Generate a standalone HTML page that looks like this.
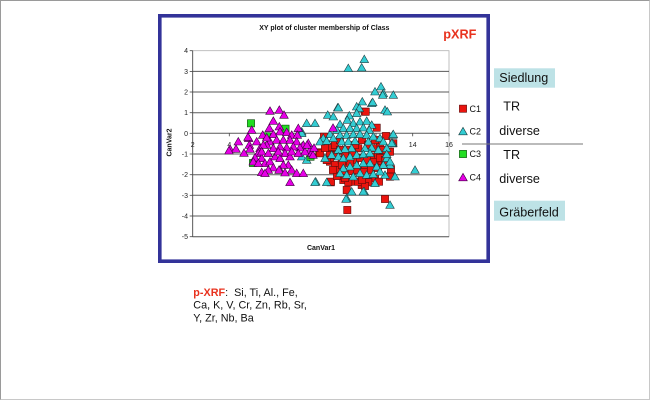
<!DOCTYPE html>
<html><head><meta charset="utf-8"><style>
html,body{margin:0;padding:0;background:#fff;}
svg{display:block;}
text{font-family:"Liberation Sans",Arial,sans-serif;}
</style></head><body>
<svg width="650" height="400" viewBox="0 0 650 400" xmlns="http://www.w3.org/2000/svg">
<defs>
<path id="tc" d="M0,-4.2 L4.3,3.3 L-4.3,3.3Z" fill="#33cdd3" stroke="#1d3f42" stroke-width="0.6"/>
<path id="tm" d="M0,-4.2 L4.3,3.3 L-4.3,3.3Z" fill="#e600e6" stroke="#3d003d" stroke-width="0.6"/>
<rect id="sr" x="-3.6" y="-3.6" width="7.2" height="7.2" fill="#ea140e" stroke="#5a0a0a" stroke-width="0.6"/>
<rect id="sg" x="-3.6" y="-3.6" width="7.2" height="7.2" fill="#22dd22" stroke="#0a4a0a" stroke-width="0.6"/>
</defs>
<rect x="0.5" y="0.5" width="649" height="399" fill="#fff" stroke="#c8c8c8"/>
<path d="M0.5,399.5 V0.5 H649.5" fill="none" stroke="#9a9a9a"/>

<!-- frame -->
<rect x="159.8" y="15.8" width="328.4" height="245.4" fill="#fff" stroke="#333399" stroke-width="3.6"/>

<!-- plot area -->
<rect x="192.7" y="50.7" width="256.3" height="186" fill="none" stroke="#b0b0b0" stroke-width="0.8"/>
<g stroke="#5a5a5a" stroke-width="1">
<line x1="192.7" y1="71.4" x2="449" y2="71.4"/>
<line x1="192.7" y1="92" x2="449" y2="92"/>
<line x1="192.7" y1="112.7" x2="449" y2="112.7"/>
<line x1="192.7" y1="133.3" x2="449" y2="133.3"/>
<line x1="192.7" y1="154" x2="449" y2="154"/>
<line x1="192.7" y1="174.7" x2="449" y2="174.7"/>
<line x1="192.7" y1="195.3" x2="449" y2="195.3"/>
<line x1="192.7" y1="216" x2="449" y2="216"/>
<line x1="192.7" y1="236.7" x2="449" y2="236.7"/>
</g>
<g stroke="#444" stroke-width="0.8">
<line x1="192.7" y1="50.7" x2="192.7" y2="236.7"/>
<line x1="189.7" y1="50.7" x2="192.7" y2="50.7"/>
<line x1="189.7" y1="71.4" x2="192.7" y2="71.4"/>
<line x1="189.7" y1="92" x2="192.7" y2="92"/>
<line x1="189.7" y1="112.7" x2="192.7" y2="112.7"/>
<line x1="189.7" y1="133.3" x2="192.7" y2="133.3"/>
<line x1="189.7" y1="154" x2="192.7" y2="154"/>
<line x1="189.7" y1="174.7" x2="192.7" y2="174.7"/>
<line x1="189.7" y1="195.3" x2="192.7" y2="195.3"/>
<line x1="189.7" y1="216" x2="192.7" y2="216"/>
<line x1="189.7" y1="236.7" x2="192.7" y2="236.7"/>
<line x1="229.3" y1="133.3" x2="229.3" y2="136.3"/>
<line x1="266" y1="133.3" x2="266" y2="136.3"/>
<line x1="302.7" y1="133.3" x2="302.7" y2="136.3"/>
<line x1="339.3" y1="133.3" x2="339.3" y2="136.3"/>
<line x1="376" y1="133.3" x2="376" y2="136.3"/>
<line x1="412.7" y1="133.3" x2="412.7" y2="136.3"/>
<line x1="449" y1="133.3" x2="449" y2="136.3"/>
</g>
<g font-size="7" fill="#222" text-anchor="end">
<text x="188" y="53.2">4</text>
<text x="188" y="73.9">3</text>
<text x="188" y="94.5">2</text>
<text x="188" y="115.2">1</text>
<text x="188" y="135.8">0</text>
<text x="188" y="156.5">-1</text>
<text x="188" y="177.2">-2</text>
<text x="188" y="197.8">-3</text>
<text x="188" y="218.5">-4</text>
<text x="188" y="239.2">-5</text>
</g>
<g font-size="7" fill="#222" text-anchor="middle">
<text x="192.7" y="147">2</text>
<text x="229.3" y="147">4</text>
<text x="266" y="147">6</text>
<text x="302.7" y="147">8</text>
<text x="339.3" y="147">10</text>
<text x="376" y="147">12</text>
<text x="412.7" y="147">14</text>
<text x="449" y="147">16</text>
</g>
<text x="324.3" y="30" font-size="7" font-weight="bold" text-anchor="middle" fill="#111">XY plot of cluster membership of Class</text>
<text x="443.3" y="38.5" font-size="12.7" font-weight="bold" fill="#e8321e">pXRF</text>
<text x="321" y="250" font-size="7" font-weight="bold" text-anchor="middle" fill="#111">CanVar1</text>
<text x="171.5" y="142.5" font-size="7" font-weight="bold" text-anchor="middle" fill="#111" transform="rotate(-90 171.5 142.5)">CanVar2</text>

<!-- red C1 -->
<g>
<use href="#sr" x="365" y="111.7"/><use href="#sr" x="376.7" y="127.7"/><use href="#sr" x="324" y="136.7"/><use href="#sr" x="331.7" y="147.7"/>
<use href="#sr" x="319.3" y="152.3"/><use href="#sr" x="330" y="161.7"/><use href="#sr" x="335" y="165"/><use href="#sr" x="341.7" y="160"/>
<use href="#sr" x="348.3" y="161"/><use href="#sr" x="355" y="160"/><use href="#sr" x="338.3" y="170"/><use href="#sr" x="345" y="171.7"/>
<use href="#sr" x="351.7" y="171"/><use href="#sr" x="358.3" y="169"/><use href="#sr" x="365" y="166.7"/><use href="#sr" x="371.7" y="156.7"/>
<use href="#sr" x="378.3" y="155"/><use href="#sr" x="381.7" y="165"/><use href="#sr" x="375" y="178.3"/><use href="#sr" x="368.3" y="182.3"/>
<use href="#sr" x="361.7" y="185"/><use href="#sr" x="355" y="181.7"/><use href="#sr" x="343.3" y="180"/><use href="#sr" x="348.3" y="182.3"/>
<use href="#sr" x="330.7" y="182.3"/><use href="#sr" x="346.7" y="190"/><use href="#sr" x="347.3" y="210"/><use href="#sr" x="385" y="199"/>
<use href="#sr" x="390" y="176.7"/><use href="#sr" x="388.3" y="151.7"/><use href="#sr" x="380" y="145"/><use href="#sr" x="393.3" y="143.3"/>
<use href="#sr" x="373.3" y="148.3"/><use href="#sr" x="358.3" y="148.3"/><use href="#sr" x="350" y="150"/><use href="#sr" x="330" y="155"/>
<use href="#sr" x="336.7" y="155"/><use href="#sr" x="326.7" y="160"/><use href="#sr" x="320" y="153.3"/><use href="#sr" x="331.7" y="146.7"/>
<use href="#sr" x="331" y="181.7"/><use href="#sr" x="358.3" y="181.7"/><use href="#sr" x="365" y="186"/><use href="#sr" x="365.7" y="111.7"/>
<use href="#sr" x="379" y="181.7"/><use href="#sr" x="391" y="169.3"/><use href="#sr" x="362" y="140"/>
<use href="#sr" x="335" y="145"/><use href="#sr" x="340" y="150"/><use href="#sr" x="345" y="155"/><use href="#sr" x="352" y="153"/>
<use href="#sr" x="360" y="158"/><use href="#sr" x="367" y="160"/><use href="#sr" x="374" y="162"/><use href="#sr" x="380" y="158"/>
<use href="#sr" x="385" y="160"/><use href="#sr" x="342" y="165"/><use href="#sr" x="350" y="163"/><use href="#sr" x="357" y="170"/>
<use href="#sr" x="364" y="172"/><use href="#sr" x="371" y="170"/><use href="#sr" x="378" y="168"/><use href="#sr" x="337" y="176"/>
<use href="#sr" x="345" y="178"/><use href="#sr" x="333" y="170"/><use href="#sr" x="325" y="148"/><use href="#sr" x="340" y="140"/>
<use href="#sr" x="355" y="145"/><use href="#sr" x="368" y="145"/><use href="#sr" x="383" y="150"/><use href="#sr" x="375" y="140"/>
<use href="#sr" x="386" y="136"/><use href="#sr" x="362" y="180"/><use href="#sr" x="386.7" y="165"/><use href="#sr" x="390" y="151.7"/>
</g>
<!-- cyan C2 -->
<g>
<use href="#tc" x="348.3" y="68.3"/><use href="#tc" x="361.7" y="67.7"/><use href="#tc" x="364.3" y="59.3"/><use href="#tc" x="381" y="86.7"/>
<use href="#tc" x="383.3" y="93.3"/><use href="#tc" x="393.3" y="95"/><use href="#tc" x="375" y="91.7"/><use href="#tc" x="385" y="110"/>
<use href="#tc" x="371.7" y="103.3"/><use href="#tc" x="362.3" y="101.7"/><use href="#tc" x="356.7" y="106.7"/><use href="#tc" x="337.7" y="107.7"/>
<use href="#tc" x="327.7" y="115"/><use href="#tc" x="333.3" y="116.7"/><use href="#tc" x="306.7" y="123.3"/><use href="#tc" x="315" y="123.3"/>
<use href="#tc" x="301.7" y="131.7"/><use href="#tc" x="415" y="170"/><use href="#tc" x="392.7" y="135"/><use href="#tc" x="392.7" y="143.3"/>
<use href="#tc" x="395" y="176.7"/><use href="#tc" x="390" y="205"/><use href="#tc" x="346.7" y="198.3"/><use href="#tc" x="351.7" y="191.7"/>
<use href="#tc" x="364.3" y="191.7"/><use href="#tc" x="315.7" y="181.7"/><use href="#tc" x="375" y="183.3"/><use href="#tc" x="385" y="175"/>
<use href="#tc" x="390" y="165"/><use href="#tc" x="386.7" y="158.3"/><use href="#tc" x="301.7" y="156.7"/><use href="#tc" x="306.7" y="160"/>
<use href="#tc" x="301.7" y="133.3"/>
<use href="#tc" x="372.7" y="102.3"/><use href="#tc" x="382.7" y="95"/><use href="#tc" x="338.3" y="107.7"/><use href="#tc" x="359.3" y="108.3"/>
<use href="#tc" x="387.3" y="111.7"/><use href="#tc" x="349.3" y="115.7"/><use href="#tc" x="356.7" y="113.3"/><use href="#tc" x="347.3" y="120"/>
<use href="#tc" x="340" y="124.3"/><use href="#tc" x="353.3" y="123.3"/><use href="#tc" x="360" y="121.7"/><use href="#tc" x="366.7" y="121"/>
<use href="#tc" x="371.7" y="125"/><use href="#tc" x="343.3" y="128.3"/><use href="#tc" x="350" y="128.3"/><use href="#tc" x="356.7" y="128.3"/>
<use href="#tc" x="363.3" y="127.7"/><use href="#tc" x="369.3" y="130"/><use href="#tc" x="336.7" y="130"/><use href="#tc" x="330" y="134.3"/>
<use href="#tc" x="323.3" y="138.3"/><use href="#tc" x="320" y="141.7"/><use href="#tc" x="326.7" y="141"/><use href="#tc" x="333.3" y="138.3"/>
<use href="#tc" x="340" y="135"/><use href="#tc" x="346.7" y="135"/><use href="#tc" x="353.3" y="134.3"/><use href="#tc" x="360" y="134.3"/>
<use href="#tc" x="366.7" y="135"/><use href="#tc" x="373.3" y="136.7"/><use href="#tc" x="380" y="138.3"/><use href="#tc" x="341.7" y="141.7"/>
<use href="#tc" x="348.3" y="141.7"/><use href="#tc" x="355" y="141"/><use href="#tc" x="368.3" y="141.7"/><use href="#tc" x="383.3" y="141.7"/>
<use href="#tc" x="393.3" y="134.3"/><use href="#tc" x="391.7" y="143.3"/><use href="#tc" x="386.7" y="148.3"/><use href="#tc" x="378.3" y="150"/>
<use href="#tc" x="371.7" y="147.7"/><use href="#tc" x="365" y="148.3"/><use href="#tc" x="351.7" y="148.3"/><use href="#tc" x="345" y="149"/>
<use href="#tc" x="338.3" y="150"/><use href="#tc" x="331.7" y="155"/><use href="#tc" x="325" y="158.3"/><use href="#tc" x="338.3" y="156.7"/>
<use href="#tc" x="343.3" y="158.3"/><use href="#tc" x="350" y="156.7"/><use href="#tc" x="356.7" y="155"/><use href="#tc" x="363.3" y="154.3"/>
<use href="#tc" x="370" y="153.3"/><use href="#tc" x="386.7" y="154.3"/><use href="#tc" x="390" y="161.7"/><use href="#tc" x="383.3" y="165"/>
<use href="#tc" x="376.7" y="166.7"/><use href="#tc" x="370" y="163.3"/><use href="#tc" x="363.3" y="163.3"/><use href="#tc" x="356.7" y="165"/>
<use href="#tc" x="350" y="166.7"/><use href="#tc" x="343.3" y="168.3"/><use href="#tc" x="340" y="173.3"/><use href="#tc" x="346.7" y="175"/>
<use href="#tc" x="353.3" y="176.7"/><use href="#tc" x="360" y="173.3"/><use href="#tc" x="366.7" y="175"/><use href="#tc" x="373.3" y="174.3"/>
<use href="#tc" x="380" y="171.7"/><use href="#tc" x="363.3" y="191.7"/><use href="#tc" x="346" y="199"/><use href="#tc" x="315" y="182.3"/>
<use href="#tc" x="326.7" y="182.3"/>
</g>
<!-- green C3 -->
<g>
<use href="#sg" x="251" y="123.3"/><use href="#sg" x="253" y="163"/><use href="#sg" x="266.7" y="136.3"/><use href="#sg" x="285.5" y="128.7"/><use href="#sg" x="310.5" y="156.7"/>
</g>
<!-- magenta C4 -->
<g>
<use href="#tm" x="270" y="111"/><use href="#tm" x="279.3" y="110"/><use href="#tm" x="284" y="115"/><use href="#tm" x="273.3" y="121"/>
<use href="#tm" x="269.3" y="128.3"/><use href="#tm" x="279.3" y="126.7"/><use href="#tm" x="251.7" y="130"/><use href="#tm" x="262.7" y="135"/>
<use href="#tm" x="248.7" y="138.3"/><use href="#tm" x="238.3" y="141.7"/><use href="#tm" x="230" y="149"/><use href="#tm" x="236" y="149"/>
<use href="#tm" x="249.3" y="145"/><use href="#tm" x="250" y="149"/><use href="#tm" x="256.7" y="141.7"/><use href="#tm" x="273.3" y="134.3"/>
<use href="#tm" x="280" y="131.7"/><use href="#tm" x="286.7" y="132.3"/><use href="#tm" x="291.7" y="135"/><use href="#tm" x="298.3" y="128.3"/>
<use href="#tm" x="297.3" y="135"/><use href="#tm" x="270" y="141.7"/><use href="#tm" x="276.7" y="140"/><use href="#tm" x="283.3" y="140"/>
<use href="#tm" x="290" y="140"/><use href="#tm" x="296.7" y="141.7"/><use href="#tm" x="303.3" y="145"/><use href="#tm" x="308.3" y="143.3"/>
<use href="#tm" x="300" y="147.7"/><use href="#tm" x="293.3" y="146.7"/><use href="#tm" x="286.7" y="147.7"/><use href="#tm" x="280" y="146.7"/>
<use href="#tm" x="273.3" y="148.3"/><use href="#tm" x="266.7" y="145"/><use href="#tm" x="260" y="148.3"/><use href="#tm" x="258.3" y="153.3"/>
<use href="#tm" x="255" y="157.7"/><use href="#tm" x="261.7" y="158.3"/><use href="#tm" x="265" y="163.3"/><use href="#tm" x="270" y="161.7"/>
<use href="#tm" x="275" y="156.7"/><use href="#tm" x="280" y="158.3"/><use href="#tm" x="285" y="153.3"/><use href="#tm" x="290" y="156.7"/>
<use href="#tm" x="288.3" y="165"/><use href="#tm" x="283.3" y="165"/><use href="#tm" x="273.3" y="167.7"/><use href="#tm" x="268.3" y="170"/>
<use href="#tm" x="261.7" y="172.3"/><use href="#tm" x="280" y="170"/><use href="#tm" x="291.7" y="170"/><use href="#tm" x="296.7" y="173.3"/>
<use href="#tm" x="303.3" y="173.3"/><use href="#tm" x="290" y="182.3"/><use href="#tm" x="310" y="150"/><use href="#tm" x="263.3" y="145"/>
<use href="#tm" x="261.7" y="151.7"/><use href="#tm" x="268.3" y="153.3"/><use href="#tm" x="278.3" y="151.7"/><use href="#tm" x="291.7" y="151.7"/>
<use href="#tm" x="298.3" y="153.3"/><use href="#tm" x="305" y="151.7"/><use href="#tm" x="311.7" y="153.3"/><use href="#tm" x="253.3" y="161.7"/>
<use href="#tm" x="258.3" y="163.3"/><use href="#tm" x="313" y="155"/><use href="#tm" x="307" y="145"/><use href="#tm" x="333" y="128"/>
<use href="#tm" x="314" y="148"/><use href="#tm" x="229" y="150.7"/><use href="#tm" x="248" y="137"/><use href="#tm" x="266.7" y="137.7"/>
<use href="#tm" x="279" y="170"/><use href="#tm" x="285" y="172.7"/><use href="#tm" x="265" y="173.3"/><use href="#tm" x="244" y="153"/>
</g>

<!-- legend -->
<use href="#sr" x="463" y="108.7"/>
<use href="#tc" x="463" y="131.5"/>
<use href="#sg" x="463" y="154"/>
<use href="#tm" x="463" y="177.5"/>
<g font-size="9" fill="#111">
<text x="469.5" y="111.8">C1</text>
<text x="469.5" y="134.5">C2</text>
<text x="469.5" y="157.2">C3</text>
<text x="469.5" y="180.5">C4</text>
</g>

<!-- right labels -->
<line x1="462" y1="144" x2="583" y2="144" stroke="#777" stroke-width="1"/>
<rect x="494" y="68.3" width="61" height="19.4" fill="#bde2e6"/>
<rect x="494" y="200.7" width="71" height="20" fill="#bde2e6"/>
<g font-size="12.6" fill="#111">
<text x="499.3" y="82">Siedlung</text>
<text x="503.3" y="110.5">TR</text>
<text x="499.3" y="134.8">diverse</text>
<text x="503.3" y="159">TR</text>
<text x="499.3" y="183.2">diverse</text>
<text x="499.3" y="216.3">Gräberfeld</text>
</g>

<!-- bottom text -->
<g font-size="10.8" fill="#111">
<text x="193.3" y="296"><tspan fill="#e8321e" font-weight="bold">p-XRF</tspan>:&#160;&#160;Si, Ti, Al., Fe,</text>
<text x="193.3" y="308.7">Ca, K, V, Cr, Zn, Rb, Sr,</text>
<text x="193.3" y="321.5">Y, Zr, Nb, Ba</text>
</g>
</svg>
</body></html>
